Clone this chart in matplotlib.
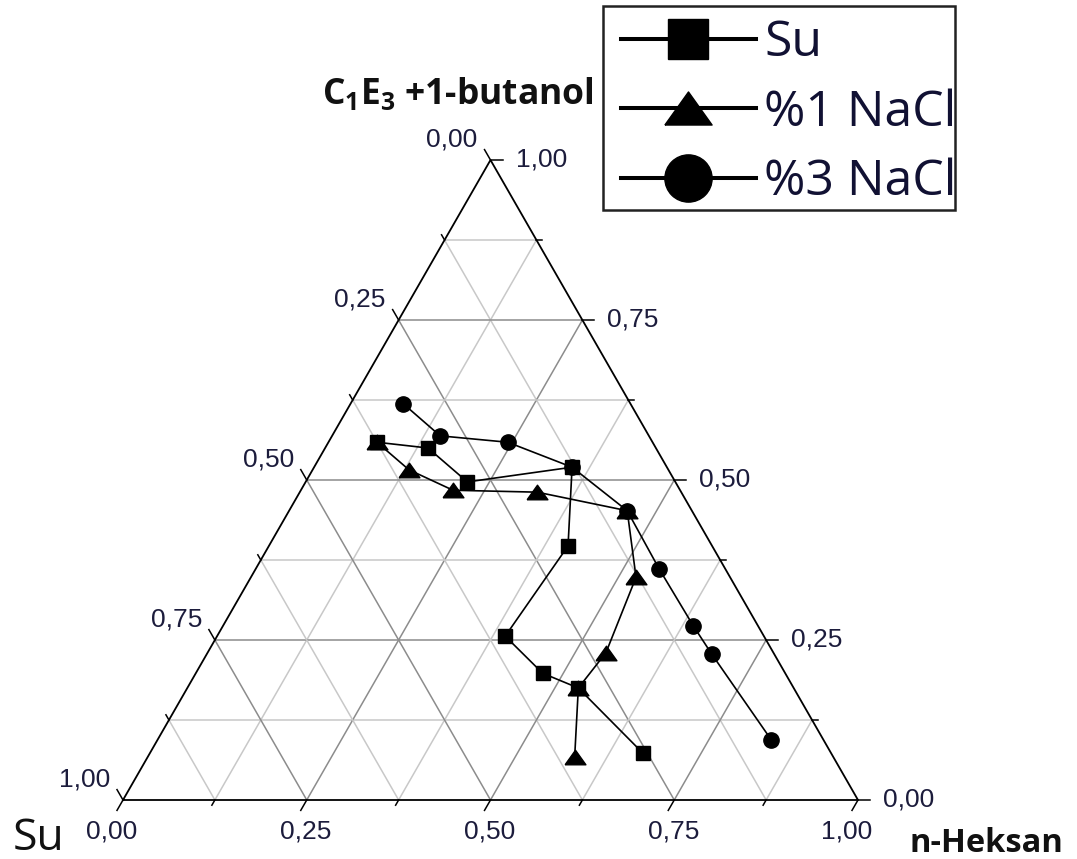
import numpy as np
import matplotlib.pyplot as plt
from matplotlib.patches import Rectangle

plt.rcParams['font.family'] = 'Liberation Sans'
plt.rcParams['mathtext.fontset'] = 'custom'
plt.rcParams['mathtext.rm'] = 'Open Sans:bold'
plt.rcParams['mathtext.it'] = 'Open Sans:bold'
plt.rcParams['mathtext.bf'] = 'Open Sans:bold'

# mass fractions: n-hexane and (C1E3 + 1-butanol); water is the rest
su_hex = [0.066, 0.140, 0.220, 0.351, 0.407, 0.392, 0.472, 0.532, 0.671]
su_but = [0.559, 0.550, 0.497, 0.520, 0.397, 0.256, 0.198, 0.175, 0.073]

nacl1_hex = [0.066, 0.131, 0.207, 0.323, 0.460, 0.524, 0.542, 0.532, 0.581]
nacl1_but = [0.559, 0.516, 0.484, 0.481, 0.452, 0.348, 0.230, 0.175, 0.067]

nacl3_hex = [0.072, 0.147, 0.244, 0.351, 0.460, 0.549, 0.640, 0.687, 0.835]
nacl3_but = [0.619, 0.569, 0.559, 0.520, 0.452, 0.361, 0.272, 0.228, 0.094]

tick_vals = [0.0, 0.25, 0.5, 0.75, 1.0]
tick_text = ['0,00', '0,25', '0,50', '0,75', '1,00']

W, H = 1077, 859
TW, TH = 735.0, 640.0   # triangle size in pixels
PT = 0.72               # points per pixel at 100 dpi
lab_col = '#1c1c3c'

# flat triangle marker
tri = [(-1, -0.7), (1, -0.7), (0, 0.7), (-1, -0.7)]


def tern(hexane, butanol):
    hexane = np.asarray(hexane, dtype=float)
    butanol = np.asarray(butanol, dtype=float)
    return hexane + butanol / 2, butanol


fig = plt.figure(figsize=(W / 100, H / 100), dpi=100)
ax = fig.add_axes([123 / W, 59 / H, TW / W, TH / H])
ax.set_xlim(0, 1)
ax.set_ylim(0, 1)
ax.axis('off')

# grid, every 0.125, darker on the quarters
for v in np.arange(0.125, 1.0, 0.125):
    major = abs(v * 4 - round(v * 4)) < 1e-9
    col = '#8c8c8c' if major else '#c8c8c8'
    for hx, bt in [([0, 1 - v], [v, v]),          # constant butanol
                   ([v, v], [0, 1 - v]),          # constant hexane
                   ([1 - v, 0], [0, 1 - v])]:     # constant water
        x, y = tern(hx, bt)
        ax.plot(x, y, color=col, lw=1.1, zorder=1)

x, y = tern([0, 1, 0, 0], [0, 0, 1, 0])
ax.plot(x, y, color='black', lw=1.3, zorder=2, clip_on=False)

# ticks on the three sides
dl = np.array([-0.5, -0.866])   # bottom ticks, down-left
ul = np.array([-0.5, 0.866])    # left ticks, up-left
rt = np.array([1.0, 0.0])       # right ticks
for v in np.arange(0, 1.0001, 0.125):
    major = abs(v * 4 - round(v * 4)) < 1e-9
    L = 12 if major else 6
    pts = [(tern(v, 0), dl), (tern(0, 1 - v), ul), (tern(1 - v, v), rt)]
    for (px, py), d in pts:
        ax.plot([px, px + L * d[0] / TW], [py, py + L * d[1] / TH],
                color='black', lw=1.1, clip_on=False, zorder=2)

for v, s in zip(tick_vals, tick_text):
    # bottom: n-hexane (corner labels sit a bit further left)
    px, py = tern(v, 0)
    dx = -11 if v in (0.0, 1.0) else -1
    ax.annotate(s, (px, py), xytext=(dx * PT, -32 * PT), textcoords='offset points',
                ha='center', va='center', fontsize=19, color=lab_col)
    # left: water
    px, py = tern(0, 1 - v)
    ax.annotate(s, (px, py), xytext=(-13 * PT, 21 * PT), textcoords='offset points',
                ha='right', va='center', fontsize=19, color=lab_col)
    # right: C1E3 + 1-butanol
    px, py = tern(1 - v, v)
    ax.annotate(s, (px, py), xytext=(25 * PT, 0), textcoords='offset points',
                ha='left', va='center', fontsize=19, color=lab_col)

x, y = tern(su_hex, su_but)
l1, = ax.plot(x, y, '-s', color='black', ms=10, lw=1.2, label='Su', zorder=4, clip_on=False)
x, y = tern(nacl1_hex, nacl1_but)
l2, = ax.plot(x, y, '-', marker=tri, color='black', ms=15, lw=1.2, label='%1 NaCl',
              zorder=4, clip_on=False)
x, y = tern(nacl3_hex, nacl3_but)
l3, = ax.plot(x, y, '-o', color='black', ms=11, lw=1.2, label='%3 NaCl', zorder=4, clip_on=False)

fig.text(13 / W, 1 - 850 / H, 'Su', ha='left', va='baseline', fontsize=32,
         family='Open Sans', color='#111111')
fig.text(910 / W, 1 - 852 / H, 'n-Heksan', ha='left', va='baseline', fontsize=23.5,
         family='Open Sans', weight='bold', color='#111111')
fig.text(322 / W, 1 - 104 / H, r'C$_1$E$_3$ +1-butanol', ha='left', va='baseline',
         fontsize=25.5, family='Open Sans', weight='bold', color='#111111')

leg = fig.legend(handles=[l1, l2, l3], loc='upper left',
                 bbox_to_anchor=(603 / W, 1 - 1 / H),
                 prop={'family': 'Open Sans', 'size': 36},
                 frameon=False, handlelength=2.7, handletextpad=0.17,
                 labelspacing=0.40, borderpad=0.35, borderaxespad=0)
for h, ms in zip(leg.legend_handles, [28.5, 34, 34]):
    h.set_markersize(ms)
    h.set_linewidth(2.9)
for t in leg.get_texts():
    t.set_color('#111133')

# legend box
fig.patches.append(Rectangle((603 / W, 1 - 210 / H), 352 / W, 204 / H,
                             transform=fig.transFigure, fill=False,
                             edgecolor='#222222', lw=1.8, zorder=5))

fig.savefig('out.png', dpi=100)
